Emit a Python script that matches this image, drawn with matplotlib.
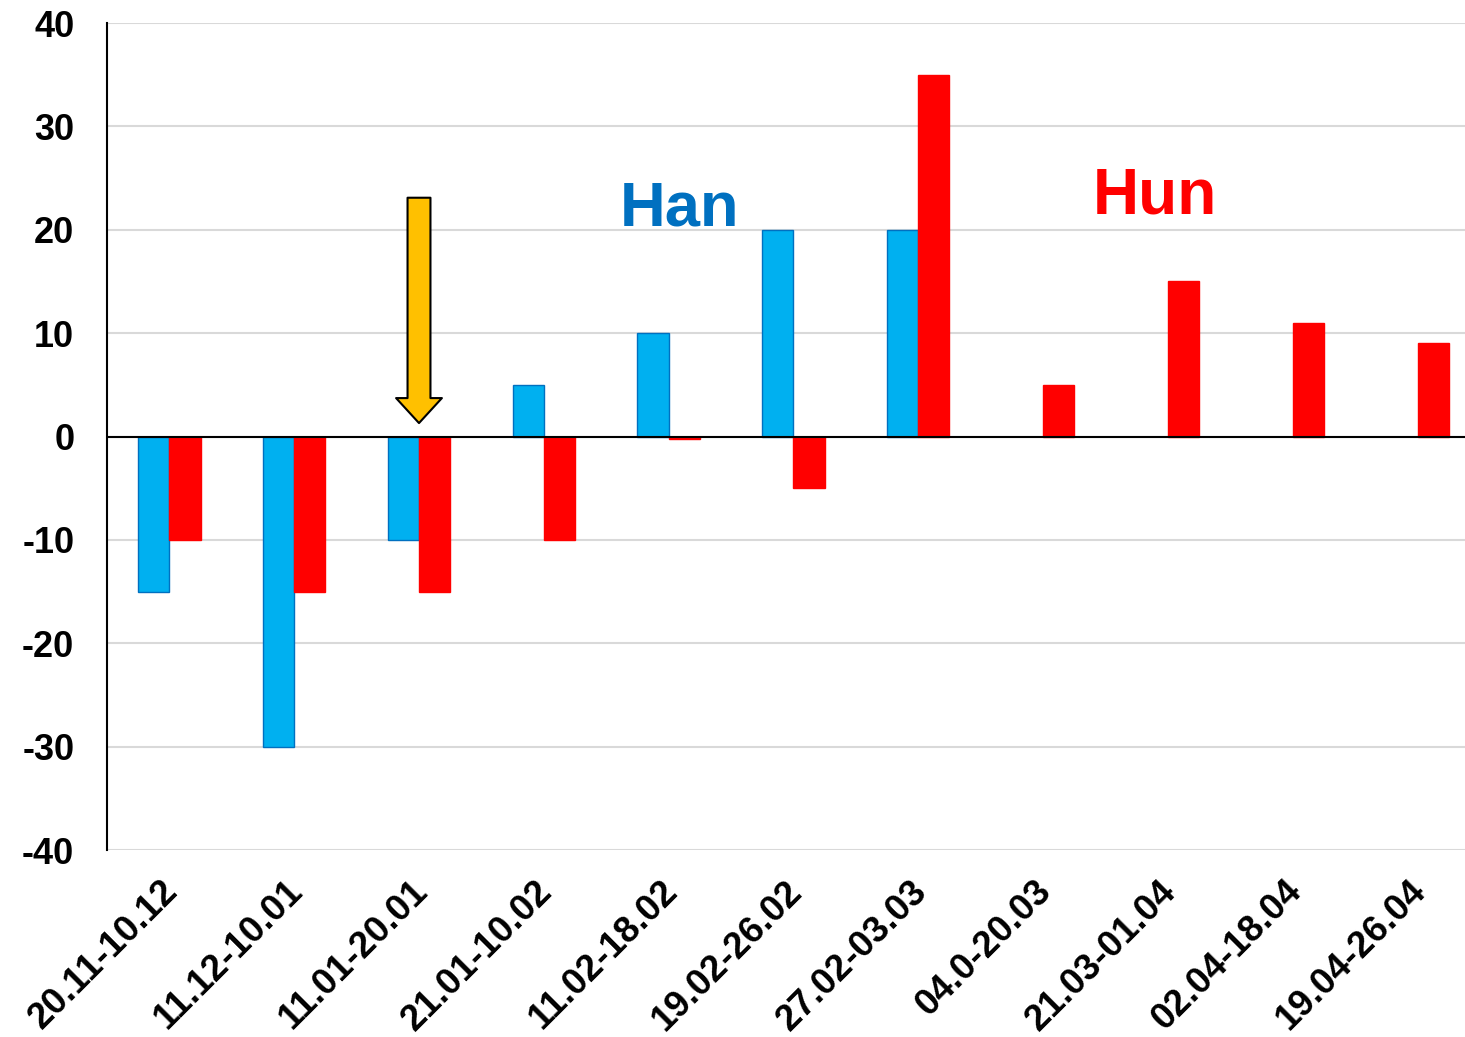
import numpy as np
import matplotlib
matplotlib.use("Agg")
import matplotlib.pyplot as plt
import matplotlib.transforms as mtransforms

# -------- DATA --------
periods = ["20.11-10.12", "11.12-10.01", "11.01-20.01", "21.01-10.02", "11.02-18.02",
           "19.02-26.02", "27.02-03.03", "04.0-20.03", "21.03-01.04", "02.04-18.04",
           "19.04-26.04"]
han = [-15, -30, -10, 5, 10, 20, 20, np.nan, np.nan, np.nan, np.nan]
hun = [-10, -15, -15, -10, -0.2, -5, 35, 5, 15, 11, 9]
y_ticks = [-40, -30, -20, -10, 0, 10, 20, 30, 40]

plt.rcParams['font.family'] = ['Liberation Sans', 'DejaVu Sans']

# -------- PLOT --------
fig = plt.figure(figsize=(14.65, 10.37), dpi=100)
ax = fig.add_axes([0.073, 0.1803, 0.927, 0.7975])

x = np.arange(len(periods))
w = 0.25
ax.bar(x - w / 2, han, width=w, color='#00B0F0', edgecolor='#0070C0', linewidth=1, zorder=3)
ax.bar(x + w / 2, hun, width=w, color='#FF0000', edgecolor='#FF0000', linewidth=1, zorder=3)

ax.axhline(0, color='black', linewidth=1.5, zorder=4)

# arrow over 11.01-20.01
ax.annotate('', xy=(2.0, 1.3), xytext=(2.0, 23.1),
            arrowprops=dict(arrowstyle='simple,head_length=18,head_width=33,tail_width=16.5',
                            mutation_scale=1, fc='#FFC000', ec='black', lw=1.5,
                            shrinkA=0, shrinkB=0), zorder=5)

ax.text(3.607, 20.4, "Han", color='#0070C0', fontsize=45.5, fontweight='bold',
        ha='left', va='baseline')
ax.text(7.394, 21.55, "Hun", color='#FF0000', fontsize=46, fontweight='bold',
        ha='left', va='baseline')

# -------- GRAPH SETTINGS --------
ax.set_xlim(-0.5, 10.38)
ax.set_ylim(-40, 40)
ax.set_yticks(y_ticks)
ax.set_yticklabels([str(v) for v in y_ticks], fontsize=26, fontweight='bold')
ax.set_xticks(x)
ax.set_xticklabels(periods, fontsize=26.5, fontweight='bold', rotation=45,
                   ha='right', va='top', rotation_mode='anchor')
ax.tick_params(axis='both', length=0)
ax.tick_params(axis='y', pad=23.5)
ax.tick_params(axis='x', pad=17)

# nudge rotated labels to the left
shift = mtransforms.ScaledTranslation(-9 / 100, 0, fig.dpi_scale_trans)
for lbl in ax.get_xticklabels():
    lbl.set_transform(lbl.get_transform() + shift)

ax.grid(axis='y', color='#D9D9D9', linewidth=1.5, zorder=0)
ax.set_axisbelow(True)
for s in ['top', 'right', 'bottom']:
    ax.spines[s].set_visible(False)
ax.spines['left'].set_linewidth(1.5)

fig.savefig("out.png", dpi=100)
